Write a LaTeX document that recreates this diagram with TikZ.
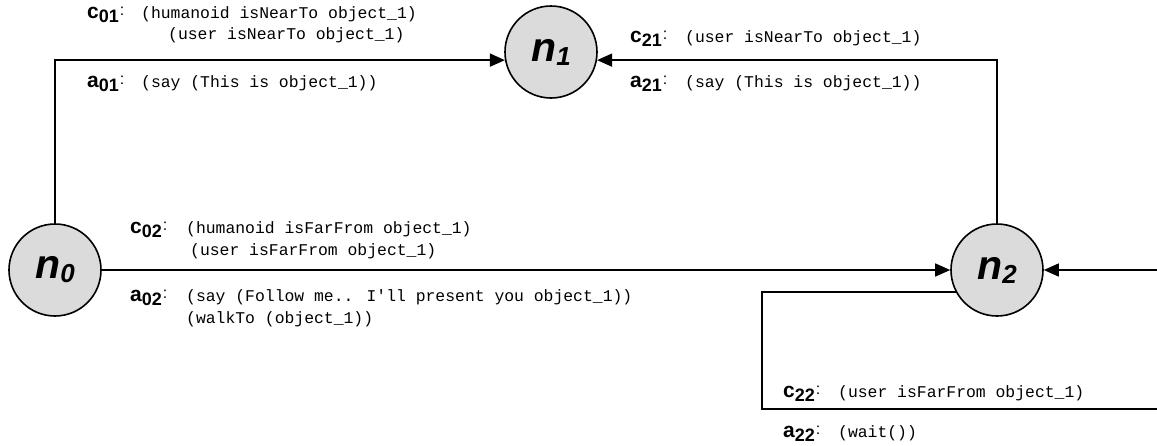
\documentclass[tikz,border=0pt]{standalone}
\usepackage{fontspec}
\setmainfont{Liberation Sans}
\newfontfamily\codefont{Liberation Mono}
\usetikzlibrary{arrows.meta}
\newcommand{\lab}[2]{{\fontsize{21}{21}\selectfont\bfseries #1}\raisebox{-4pt}{\fontsize{18}{18}\selectfont\bfseries #2}\kern1pt\raisebox{3pt}{\fontsize{16}{16}\selectfont :}}
\newcommand{\nlab}[1]{{\fontsize{41}{41}\selectfont\bfseries\itshape n}\raisebox{-4pt}{\fontsize{26}{26}\selectfont\bfseries\itshape #1}}
\begin{document}
\begin{tikzpicture}[x=1pt,y=-1pt,
  state/.style={circle, draw, line width=1.6pt, fill=gray!28, minimum size=92pt, inner sep=0pt},
  edge/.style={line width=1.5pt, -{Triangle[length=15pt,width=13pt]}},
  lbl/.style={anchor=base west, inner sep=0pt},
  code/.style={anchor=base west, inner sep=0pt, font=\codefont\fontsize{16.4}{16.4}\selectfont}]
\useasboundingbox (0,0) rectangle (1157,445);
\fill[white] (0,0) rectangle (1157,445);
\node[state] (n0) at (55,270) {\nlab{0}};
\node[state] (n1) at (551,52) {\nlab{1}};
\node[state] (n2) at (997,270) {\nlab{2}};
\coordinate (l1) at (762,409);
\coordinate (r1) at (1190,409);
\draw[edge] (n0.north) |- (n1.190);
\draw[edge] (n2.north) |- (n1.350);
\draw[edge] (n0.east) -- (n2.west);
\draw[edge] (n2.208) -| (l1) -- (r1) |- (n2.east);
% labels
\node[lbl] (c01) at (87,18) {\lab{c}{01}};
\node[code] (c01a) at (141,18) {(humanoid isNearTo object\_1)};
\node[code] (c01b) at (168,39) {(user isNearTo object\_1)};
\node[lbl] (a01) at (87,87) {\lab{a}{01}};
\node[code] (a01a) at (141,87) {(say (This is object\_1))};
\node[lbl] (c21) at (630,42) {\lab{c}{21}};
\node[code] (c21a) at (685,42) {(user isNearTo object\_1)};
\node[lbl] (a21) at (630,87) {\lab{a}{21}};
\node[code] (a21a) at (685,87) {(say (This is object\_1))};
\node[lbl] (c02) at (130,233) {\lab{c}{02}};
\node[code] (c02a) at (186,233) {(humanoid isFarFrom object\_1)};
\node[code] (c02b) at (190,255) {(user isFarFrom object\_1)};
\node[lbl] (a02) at (130,301) {\lab{a}{02}};
\node[code] (a02a) at (186,301) {(say (Follow me.. I'll present you object\_1))};
\node[code] (a02b) at (186,323) {(walkTo (object\_1))};
\node[lbl] (c22) at (783,397) {\lab{c}{22}};
\node[code] (c22a) at (838,397) {(user isFarFrom object\_1)};
\node[lbl] (a22) at (783,437) {\lab{a}{22}};
\node[code] (a22a) at (838,437) {(wait())};
\end{tikzpicture}
\end{document}
